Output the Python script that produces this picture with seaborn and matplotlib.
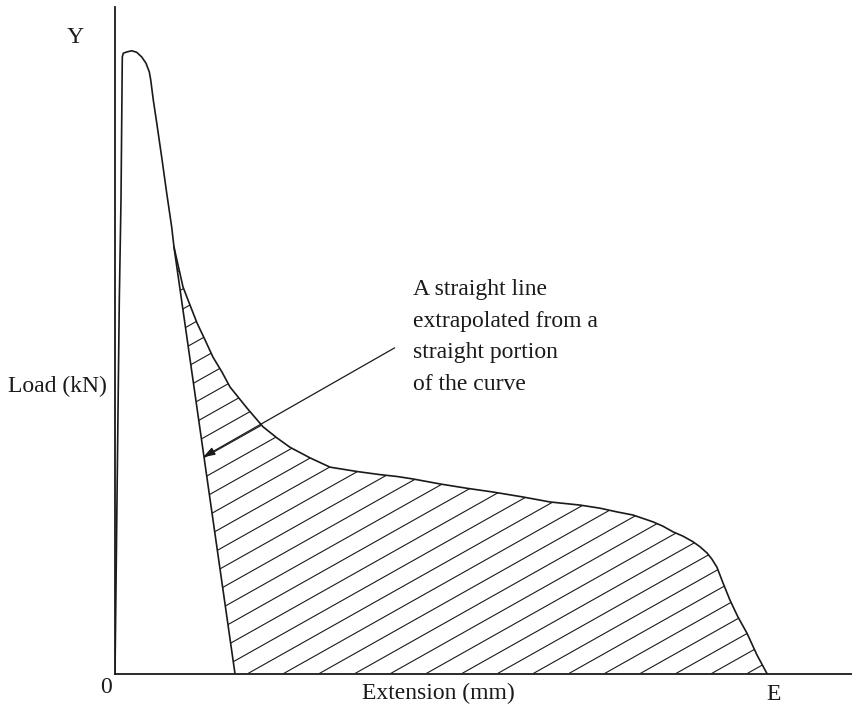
import numpy as np
import pandas as pd
import matplotlib
matplotlib.use("Agg")
import matplotlib.pyplot as plt
import seaborn as sns

# Load-extension curve (extension scaled so that fracture E = 100, peak load Y = 100)
extension = [0.0, 0.66, 0.92, 1.12, 1.27, 1.79, 2.56, 3.33, 4.10, 4.75, 5.26, 5.48,
             5.87, 6.40, 7.16, 7.93, 8.70, 9.05,
             10.43, 11.20, 12.58, 13.80, 15.03, 16.41, 17.64, 20.25, 22.70, 24.85,
             26.84, 29.91, 32.98, 37.12, 40.64, 43.25,
             45.71, 49.85, 53.99, 57.98, 62.58, 66.72, 71.32, 74.39, 77.00, 79.45,
             82.52, 84.05, 85.58, 87.12, 88.65, 89.72, 90.80, 91.56, 92.33, 93.25,
             94.33, 95.55, 96.93, 98.47, 100.0]
load = [0.0, 60.1, 76.2, 99.2, 99.8, 100.0, 100.2, 99.95, 99.2, 98.2, 96.8, 95.5,
        92.3, 88.6, 83.1, 77.3, 71.8, 68.6,
        62.2, 60.1, 56.4, 53.7, 50.9, 48.5, 46.1, 42.7, 39.7, 37.9,
        36.4, 34.7, 33.2, 32.5, 32.0, 31.7,
        31.3, 30.5, 29.8, 29.2, 28.4, 27.6, 27.1, 26.6, 26.0, 25.5,
        24.4, 23.7, 22.8, 22.1, 21.2, 20.4, 19.4, 18.4, 17.1, 14.6,
        11.8, 9.1, 6.5, 2.98, 0.0]

# Straight line extrapolated from the straight descending portion
line_ext = [9.05, 18.40]
line_load = [68.6, 0.0]

# Where the annotation arrow points
arrow_tip = (13.5, 34.8)
arrow_tail = (42.9, 52.4)

sns.set_theme(style="white")
plt.rcParams["font.family"] = ["Liberation Serif", "DejaVu Serif"]

W, H = 853, 706
fig = plt.figure(figsize=(W / 100, H / 100), dpi=100)
ax = fig.add_axes([115 / W, (H - 673.5) / H, (W - 115) / W, (673.5 - 7) / H])

ink = "#1a1a1a"
df = pd.DataFrame({"ext": extension, "load": load})
sns.lineplot(data=df, x="ext", y="load", sort=False, ax=ax, color=ink, lw=1.2)
sns.lineplot(x=line_ext, y=line_load, sort=False, ax=ax, color=ink, lw=1.2)
for ln in ax.lines:
    ln.set_solid_joinstyle("round")

ax.set_xlim(0, 113.2)
ax.set_ylim(0, 107.24)

# Hatched region between the extrapolated line and the curve
i0 = extension.index(line_ext[0])
poly_x = extension[i0:] + [line_ext[1]]
poly_y = load[i0:] + [line_load[1]]
region = ax.fill(poly_x, poly_y, facecolor="none", edgecolor="none")[0]
slope = 0.59
spacing = 5.47
for x0 in 20.4 + spacing * np.arange(-22, 16):
    xs = np.array([x0, x0 + 200])
    (h,) = ax.plot(xs, slope * (xs - x0), color=ink, lw=0.8)
    h.set_clip_path(region)

ax.annotate("", xy=arrow_tip, xytext=arrow_tail,
            arrowprops=dict(arrowstyle="-|>,head_length=0.6,head_width=0.2",
                            mutation_scale=12, color=ink, lw=0.9,
                            shrinkA=0, shrinkB=0))

for s in ["top", "right"]:
    ax.spines[s].set_visible(False)
for s in ["left", "bottom"]:
    ax.spines[s].set_color(ink)
    ax.spines[s].set_linewidth(1.3)
ax.set_xticks([])
ax.set_yticks([])
ax.set_xlabel("")
ax.set_ylabel("")


def px(x, y):
    return x / W, 1 - y / H


fs = 17
kw = dict(fontsize=fs, color=ink, va="baseline", ha="left")
fig.text(*px(67, 43), "Y", **kw)
fig.text(*px(8, 392), "Load (kN)", **kw)
fig.text(*px(100, 693), "0", **kw)
fig.text(*px(362, 699), "Extension (mm)", **kw)
fig.text(*px(766, 700), "E", **kw)

note = ["A straight line", "extrapolated from a", "straight portion", "of the curve"]
for i, line in enumerate(note):
    fig.text(*px(413, 295 + 31.5 * i), line, **kw)

fig.savefig("out.png", dpi=100)
